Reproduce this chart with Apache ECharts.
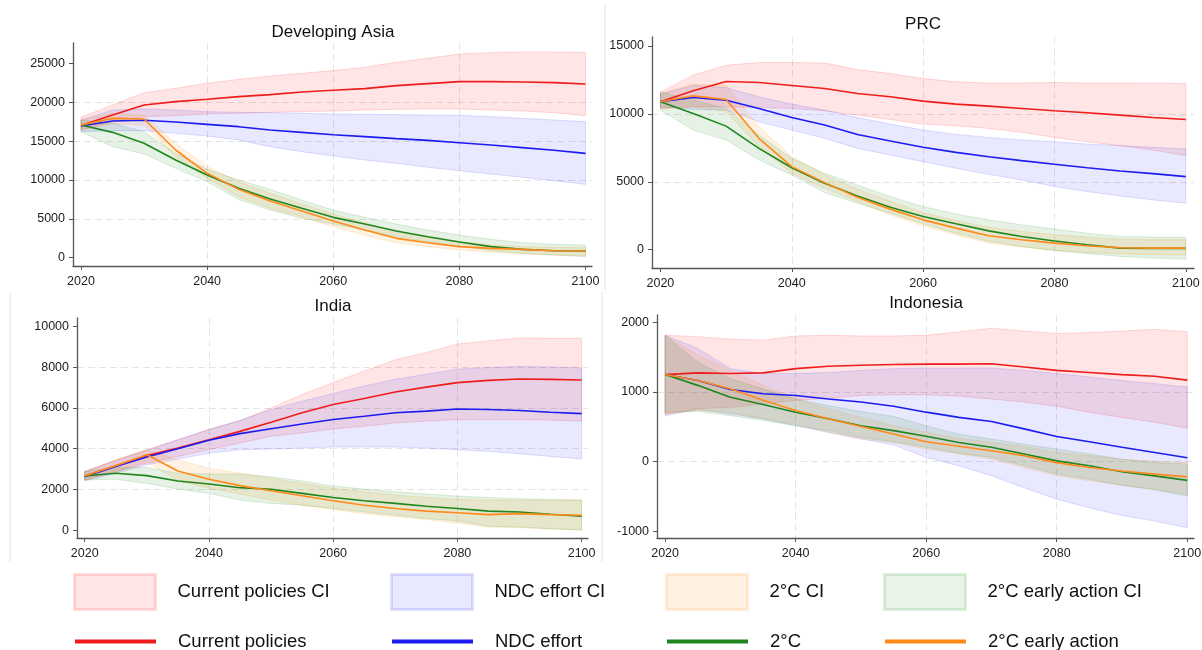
<!DOCTYPE html>
<html>
<head>
<meta charset="utf-8">
<title>Emission pathways</title>
<script src="https://cdn.jsdelivr.net/npm/echarts@6/dist/echarts.min.js"></script>
<style>html,body{margin:0;padding:0;background:#fff}</style>
</head>
<body>
<div id="main" style="width:1202px;height:650px;"></div>
<script type="text/javascript">
var years = [2020,2025,2030,2035,2040,2045,2050,2055,2060,2065,2070,2075,2080,2085,2090,2095,2100];
var xTicks = [2020,2040,2060,2080,2100];

// Developing Asia
var asiaCur   = [17000,18350,19640,20070,20370,20710,20970,21310,21530,21740,22130,22380,22640,22640,22600,22510,22340];
var asiaCurHi = [18050,19640,21220,21780,22430,22940,23370,23710,24060,24480,25130,25640,26200,26370,26460,26460,26410];
var asiaCurLo = [16420,17500,18140,18270,18480,18570,18700,18780,18870,19000,19080,19120,19120,19000,18870,18650,18270];
var asiaNdc   = [16940,17580,17670,17450,17150,16850,16420,16120,15820,15570,15310,15090,14790,14490,14150,13810,13420];
var asiaNdcHi = [17710,19000,19120,19000,18780,18700,18650,18570,18480,18440,18400,18350,18310,18140,17920,17710,17500];
var asiaNdcLo = [16210,16340,16340,15990,15650,15140,14280,13640,13080,12560,12140,11620,11190,10760,10330,9910,9430];
var asia2C    = [17070,16120,14710,12560,10630,8920,7550,6350,5190,4330,3430,2700,2020,1420,1070,900,860];
var asia2CHi  = [17710,17280,16210,13420,11360,9990,8790,7420,6130,5190,4330,3560,2920,2360,1930,1720,1630];
var asia2CLo  = [16210,14280,13340,11490,9780,7500,6130,5060,4330,3560,2700,2060,1500,900,560,340,130];
var asiaEarly   = [17070,17920,17840,13850,10850,8790,7290,6000,4720,3560,2490,1930,1420,1200,1070,900,860];
var asiaEarlyHi = [17710,18570,18350,14710,11710,9780,8280,6900,5620,4500,3340,2620,2060,1630,1420,1330,1290];
var asiaEarlyLo = [16420,17190,17070,12990,10210,7850,6350,5270,3990,2920,1930,1420,990,690,470,340,260];

// PRC
var prcCur   = [10890,11700,12380,12310,12090,11870,11500,11260,10940,10720,10570,10400,10230,10080,9910,9740,9590];
var prcCurHi = [11620,12850,13580,13780,13780,13750,13260,12970,12600,12360,12280,12280,12310,12280,12280,12260,12240];
var prcCurLo = [10400,10520,10520,10470,10400,10230,9910,9590,9250,9130,8930,8640,8270,7950,7660,7340,6930];
var prcNdc   = [10890,11210,11010,10400,9740,9180,8490,8000,7540,7170,6850,6560,6290,6040,5800,5600,5380];
var prcNdcHi = [11450,12110,11940,11260,10720,10280,9740,9250,8810,8490,8270,8080,7950,7780,7660,7540,7410];
var prcNdcLo = [10520,10330,10280,9420,8810,8200,7460,6970,6480,6000,5550,5140,4650,4280,3960,3670,3430];
var prc2C    = [10890,10030,9100,7460,6040,4890,3960,3130,2450,1910,1390,980,640,370,120,100,100];
var prc2CHi  = [11620,11010,10400,8440,6730,5630,4770,3920,3180,2640,2200,1840,1520,1220,980,930,930];
var prc2CLo  = [10280,8810,8080,6610,5510,4210,3430,2690,1910,1220,610,240,-50,-290,-490,-610,-690];
var prcEarly   = [10890,11330,11060,8200,6120,4940,3870,2990,2200,1590,1030,730,490,290,150,120,120];
var prcEarlyHi = [11500,12190,12110,9050,6850,5510,4450,3550,2740,2150,1660,1350,1100,930,780,730,730];
var prcEarlyLo = [10400,10520,10150,7590,5630,4530,3550,2570,1760,1100,490,200,-50,-200,-290,-370,-390];

// India
var indCur   = [2660,3170,3670,4030,4440,4850,5300,5760,6170,6460,6780,7020,7240,7350,7420,7400,7370];
var indCurHi = [2880,3450,3950,4440,4940,5380,6000,6660,7240,7810,8360,8720,9130,9290,9430,9410,9410];
var indCurLo = [2470,2880,3290,3620,3950,4280,4610,4770,4970,5100,5260,5350,5430,5430,5430,5400,5350];
var indNdc   = [2630,3130,3590,4000,4410,4740,4980,5210,5430,5590,5760,5840,5950,5920,5870,5790,5720];
var indNdcHi = [2880,3420,3920,4440,4940,5380,5920,6330,6710,7070,7400,7650,7900,7980,8030,8010,7960];
var indNdcLo = [2420,2800,3210,3490,3780,3950,3980,4030,4080,4080,4080,4030,3950,3870,3750,3620,3490];
var ind2C    = [2660,2800,2680,2420,2270,2090,2010,1810,1610,1450,1320,1180,1070,940,900,790,690];
var ind2CHi  = [2880,3080,3080,2800,2760,2760,2630,2420,2170,2020,1890,1780,1680,1610,1550,1510,1480];
var ind2CLo  = [2470,2500,2300,2020,1810,1480,1320,1230,1070,900,740,580,460,200,160,80,0];
var indEarly   = [2660,3170,3700,2910,2500,2190,1940,1690,1450,1230,1070,940,860,770,820,770,740];
var indEarlyHi = [2880,3450,3950,3450,3040,2800,2550,2300,2060,1890,1730,1610,1510,1480,1480,1480,1480];
var indEarlyLo = [2470,2880,3370,2430,2060,1780,1480,1230,1020,820,660,530,360,160,130,70,30];

// Indonesia
var idnCur   = [1250,1275,1265,1275,1335,1370,1385,1395,1400,1400,1405,1360,1310,1280,1250,1225,1170];
var idnCurHi = [1815,1795,1760,1745,1805,1815,1805,1805,1815,1865,1915,1875,1840,1855,1875,1900,1865];
var idnCurLo = [685,760,780,830,880,910,950,960,960,940,900,855,795,710,635,565,480];
var idnNdc   = [1250,1165,1035,975,950,900,855,795,710,635,575,470,360,285,205,130,55];
var idnNdcHi = [1815,1625,1335,1265,1265,1280,1310,1335,1345,1345,1345,1310,1265,1215,1165,1120,1070];
var idnNdcLo = [660,750,685,615,515,420,325,240,60,-60,-205,-375,-540,-665,-775,-855,-950];
var idn2C    = [1250,1095,925,820,710,615,515,445,365,275,205,110,10,-60,-145,-205,-270];
var idn2CHi  = [1815,1430,1190,1045,900,805,720,650,515,395,325,250,180,110,35,-15,-35];
var idn2CLo  = [710,720,660,590,515,445,350,285,205,120,60,-60,-180,-255,-340,-405,-495];
var idnEarly   = [1250,1165,1045,880,735,615,505,395,285,220,155,85,-15,-85,-135,-180,-220];
var idnEarlyHi = [1815,1530,1310,1095,900,760,635,515,420,335,275,220,130,85,35,10,-15];
var idnEarlyLo = [685,735,710,615,540,420,325,275,180,110,35,-85,-205,-275,-340,-400,-470];

var asiaTicks = [0,5000,10000,15000,20000,25000];
var prcTicks  = [0,5000,10000,15000];
var indTicks  = [0,2000,4000,6000,8000,10000];
var idnTicks  = [-1000,0,1000,2000];

var titles = ['Developing Asia', 'PRC', 'India', 'Indonesia'];

var panels = [
  {ticks: asiaTicks, cur: [asiaCurLo, asiaCur, asiaCurHi], ndc: [asiaNdcLo, asiaNdc, asiaNdcHi], c2: [asia2CLo, asia2C, asia2CHi], early: [asiaEarlyLo, asiaEarly, asiaEarlyHi]},
  {ticks: prcTicks, cur: [prcCurLo, prcCur, prcCurHi], ndc: [prcNdcLo, prcNdc, prcNdcHi], c2: [prc2CLo, prc2C, prc2CHi], early: [prcEarlyLo, prcEarly, prcEarlyHi]},
  {ticks: indTicks, cur: [indCurLo, indCur, indCurHi], ndc: [indNdcLo, indNdc, indNdcHi], c2: [ind2CLo, ind2C, ind2CHi], early: [indEarlyLo, indEarly, indEarlyHi]},
  {ticks: idnTicks, cur: [idnCurLo, idnCur, idnCurHi], ndc: [idnNdcLo, idnNdc, idnNdcHi], c2: [idn2CLo, idn2C, idn2CHi], early: [idnEarlyLo, idnEarly, idnEarlyHi]}
];

// layout of the four panels
var layout = [
  {grid: {left: 73, top: 43, width: 519, height: 223}, xMin: 2018.73, xMax: 2101.03, yMin: -1067, yMax: 27610, split: 5, tx: 333, ty: 24},
  {grid: {left: 652, top: 37, width: 542, height: 231}, xMin: 2018.72, xMax: 2101.25, yMin: -1344, yMax: 15661, split: 3, tx: 923, ty: 16},
  {grid: {left: 77, top: 318, width: 511, height: 220}, xMin: 2018.76, xMax: 2101.03, yMin: -377, yMax: 10407, split: 5, tx: 333, ty: 298},
  {grid: {left: 657, top: 315, width: 537, height: 223}, xMin: 2018.76, xMax: 2101.03, yMin: -1098, yMax: 2106, split: 3, tx: 926, ty: 295}
];

var red = '#f01c1c', blue = '#1c1cf0', green = '#1f861f', orange = '#ff8a1a';
var fills = {cur: 'rgba(255,0,0,0.1)', ndc: 'rgba(0,0,255,0.09)', early: 'rgba(255,140,0,0.11)', c2: 'rgba(0,128,0,0.1)'};
var edges = {cur: 'rgba(255,0,0,0.14)', ndc: 'rgba(0,0,255,0.12)', early: 'rgba(255,140,0,0.16)', c2: 'rgba(0,128,0,0.13)'};

function pairs(arr) {
  return years.map(function (y, j) { return [y, arr[j]]; });
}

// a CI band drawn as one polygon through the axis scales
function bandSeries(name, i, lo, hi, fill, edge) {
  return {
    type: 'custom', name: name, xAxisIndex: i, yAxisIndex: i, silent: true,
    itemStyle: {color: fill},
    encode: {x: 0, y: [1, 2]},
    data: years.map(function (y, j) { return [y, lo[j], hi[j]]; }),
    renderItem: function (params, api) {
      if (params.dataIndex !== 0) return null;
      var pts = [], j;
      for (j = 0; j < years.length; j++) pts.push(api.coord([years[j], hi[j]]));
      for (j = years.length - 1; j >= 0; j--) pts.push(api.coord([years[j], lo[j]]));
      return {type: 'polygon', shape: {points: pts}, style: {fill: fill, stroke: edge, lineWidth: 1}};
    }
  };
}

var series = [];
panels.forEach(function (p, i) {
  // bands: red, blue, orange, green
  [['cur', 'Current policies CI'], ['ndc', 'NDC effort CI'], ['early', '2°C CI'], ['c2', '2°C early action CI']].forEach(function (b) {
    var key = b[0];
    series.push(bandSeries(b[1], i, p[key][0], p[key][2], fills[key], edges[key]));
  });
  // lines: red, blue, green, orange
  [['cur', 'Current policies', red], ['ndc', 'NDC effort', blue], ['c2', '2°C', green], ['early', '2°C early action', orange]].forEach(function (l) {
    series.push({
      type: 'line', name: l[1], xAxisIndex: i, yAxisIndex: i, symbol: 'none', silent: true,
      lineStyle: {color: l[2], width: 1.6}, itemStyle: {color: l[2]}, data: pairs(p[l[0]][1])
    });
  });
});

var axisColor = '#555';
var font = 'Liberation Sans, Arial, sans-serif';

var xAxes = layout.map(function (l, i) {
  return {
    type: 'value', gridIndex: i, min: l.xMin, max: l.xMax, splitNumber: 4,
    axisLine: {onZero: false, lineStyle: {color: axisColor, width: 1.3}},
    axisTick: {customValues: xTicks, length: 4, lineStyle: {color: axisColor}},
    axisLabel: {customValues: xTicks, color: '#222', fontSize: 12.5, fontFamily: font, margin: 9,
      formatter: function (v) { return xTicks.indexOf(v) >= 0 ? String(v) : ''; }},
    splitLine: {show: true, showMinLine: false, showMaxLine: false, lineStyle: {color: '#e4e4e4', type: [7, 4], width: 1}}
  };
});
var yAxes = layout.map(function (l, i) {
  var t = panels[i].ticks;
  return {
    type: 'value', gridIndex: i, min: l.yMin, max: l.yMax, splitNumber: l.split,
    axisLine: {show: true, onZero: false, lineStyle: {color: axisColor, width: 1.3}},
    axisTick: {show: true, customValues: t, length: 4, lineStyle: {color: axisColor}},
    axisLabel: {customValues: t, color: '#222', fontSize: 12.5, fontFamily: font, margin: 8,
      formatter: function (v) { return t.indexOf(v) >= 0 ? String(v) : ''; }},
    splitLine: {show: true, showMinLine: false, showMaxLine: false, lineStyle: {color: '#e4e4e4', type: [7, 4], width: 1}}
  };
});

var bandLegend = [
  {name: 'Current policies CI', fill: 'rgba(255,0,0,0.1)', edge: 'rgba(255,0,0,0.13)'},
  {name: 'NDC effort CI', fill: 'rgba(0,0,255,0.09)', edge: 'rgba(0,0,255,0.12)'},
  {name: '2°C CI', fill: 'rgba(255,140,0,0.11)', edge: 'rgba(255,140,0,0.15)'},
  {name: '2°C early action CI', fill: 'rgba(0,128,0,0.09)', edge: 'rgba(0,128,0,0.13)'}
];
var lineLegend = [
  {name: 'Current policies', color: red},
  {name: 'NDC effort', color: blue},
  {name: '2°C', color: green},
  {name: '2°C early action', color: orange}
];
var legendX = [73, 390, 665, 883];
var legendText = {fontSize: 18.5, color: '#111', fontFamily: font, padding: [0, 0, 0, 17]};

var legends = [];
bandLegend.forEach(function (b, i) {
  legends.push({
    left: legendX[i], top: 573, padding: 0, itemWidth: 81, itemHeight: 35, selectedMode: false,
    textStyle: legendText,
    data: [{name: b.name, icon: 'rect', itemStyle: {color: b.fill, borderColor: b.edge, borderWidth: 3}}]
  });
});
lineLegend.forEach(function (l, i) {
  legends.push({
    left: legendX[i], top: 632, padding: 0, itemWidth: 81, itemHeight: 16, selectedMode: false,
    textStyle: legendText,
    itemStyle: {opacity: 0},
    lineStyle: {width: 4, color: l.color},
    data: [{name: l.name}]
  });
});

var chart = echarts.init(document.getElementById('main'), null, {renderer: 'canvas'});
chart.setOption({
  animation: false,
  backgroundColor: '#fff',
  title: layout.map(function (l, i) {
    return {text: titles[i], left: l.tx, top: l.ty, textAlign: 'center', padding: 0,
      textStyle: {fontSize: 17, fontWeight: 'normal', color: '#111', fontFamily: font}};
  }),
  grid: layout.map(function (l) {
    var g = Object.assign({}, l.grid);
    g.containLabel = false;
    g.outerBoundsMode = 'none';
    return g;
  }),
  xAxis: xAxes,
  yAxis: yAxes,
  legend: legends,
  graphic: [
    {type: 'line', shape: {x1: 605, y1: 5, x2: 605, y2: 290}, style: {stroke: '#e2e2e2', lineWidth: 1}},
    {type: 'line', shape: {x1: 10, y1: 293, x2: 10, y2: 562}, style: {stroke: '#e2e2e2', lineWidth: 1}},
    {type: 'line', shape: {x1: 602, y1: 292, x2: 602, y2: 562}, style: {stroke: '#e2e2e2', lineWidth: 1}}
  ],
  series: series
});
</script>
</body>
</html>
